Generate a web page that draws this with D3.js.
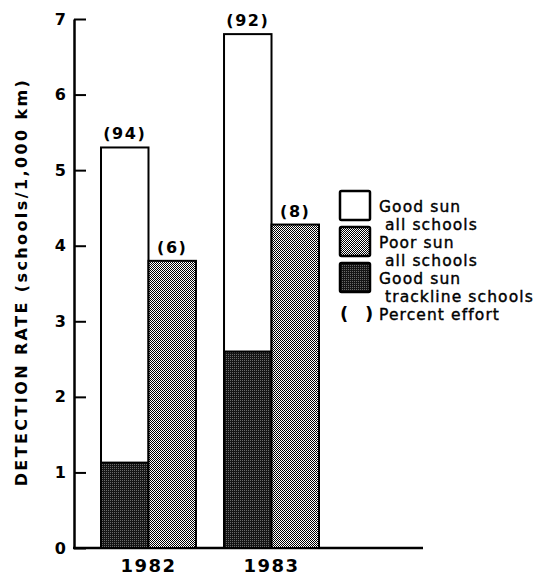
<!DOCTYPE html>
<html>
<head>
<meta charset="utf-8">
<script src="https://cdn.jsdelivr.net/npm/d3@7"></script>
<style>
    body { margin: 0; background: #fff; }
    svg { display: block; }
    text { font-family: "DejaVu Sans", sans-serif; fill: #000; }
</style>
</head>
<body>
<div id="chart"></div>
<script>
"use strict";

var years = ["1982", "1983"],
    goodAll = [5.3, 6.8],          //good sun, all schools (full bar height)
    goodTrackline = [1.13, 2.6],   //good sun, trackline schools (dark base)
    poorAll = [3.8, 4.28],         //poor sun, all schools
    effortGood = [94, 92],         //percent effort, good sun
    effortPoor = [6, 8],           //percent effort, poor sun
    yTicks = [0, 1, 2, 3, 4, 5, 6, 7],
    legendLabels = [["Good sun", "all schools"],
                    ["Poor sun", "all schools"],
                    ["Good sun", "trackline schools"]],
    legendFills = ["#fff", "url(#poorpat)", "url(#darkpat)"],
    effortLabel = "Percent effort",
    yLabel = "DETECTION RATE (schools/1,000 km)";

var W = 554, H = 577,
    svg, y, x, sub;


function appendPatterns () {
    var defs = svg.append("defs"), p;
    p = defs.append("pattern").attr("id", "poorpat")
        .attr("patternUnits", "userSpaceOnUse")
        .attr("width", 2).attr("height", 2);
    p.append("rect").attr("width", 2).attr("height", 2).attr("fill", "#fff");
    p.append("rect").attr("width", 1).attr("height", 1).attr("fill", "#000");
    p.append("rect").attr("x", 1).attr("y", 1).attr("width", 1).attr("height", 1)
        .attr("fill", "#000");
    p = defs.append("pattern").attr("id", "darkpat")
        .attr("patternUnits", "userSpaceOnUse")
        .attr("width", 2).attr("height", 2);
    p.append("rect").attr("width", 2).attr("height", 2).attr("fill", "#151515");
    p.append("rect").attr("width", 1).attr("height", 1).attr("fill", "#6a6a6a");
}


function appendAxes () {
    var ax = svg.append("g")
        .attr("transform", "translate(74,0)")
        .call(d3.axisLeft(y).tickValues(yTicks).tickSize(-12)
              .tickSizeOuter(0).tickPadding(8).tickFormat(d3.format("d")));
    ax.select(".domain").attr("stroke-width", 2.5);
    ax.selectAll(".tick line").attr("stroke-width", 2);
    ax.selectAll(".tick text")
        .attr("font-family", "DejaVu Sans")
        .attr("font-weight", "bold")
        .attr("font-size", 16);
    svg.append("line")   //baseline
        .attr("x1", 73).attr("x2", 423)
        .attr("y1", y(0)).attr("y2", y(0))
        .attr("stroke", "#000").attr("stroke-width", 2.5);
    svg.selectAll("text.year").data(years).enter().append("text")
        .attr("class", "year")
        .attr("x", function (d) { return x(d) + x.bandwidth() / 2; })
        .attr("y", 572)
        .attr("text-anchor", "middle")
        .attr("font-weight", "bold")
        .attr("font-size", 18)
        .attr("letter-spacing", 1.5)
        .text(function (d) { return d; });
    svg.append("text")
        .attr("transform", "translate(27," + 282 + ") rotate(-90)")
        .attr("text-anchor", "middle")
        .attr("font-weight", "bold")
        .attr("font-size", 16)
        .attr("letter-spacing", 2.4)
        .text(yLabel);
}


function appendBars () {
    years.forEach(function (yr, i) {
        var gx = x(yr) + sub("good"), px = x(yr) + sub("poor"),
            bw = sub.bandwidth();
        svg.append("rect")
            .attr("x", gx).attr("y", y(goodAll[i]))
            .attr("width", bw).attr("height", y(0) - y(goodAll[i]))
            .attr("fill", "#fff").attr("stroke", "#000").attr("stroke-width", 2);
        svg.append("rect")
            .attr("x", gx).attr("y", y(goodTrackline[i]))
            .attr("width", bw).attr("height", y(0) - y(goodTrackline[i]))
            .attr("fill", "url(#darkpat)").attr("stroke", "#000")
            .attr("stroke-width", 2);
        svg.append("rect")
            .attr("x", px).attr("y", y(poorAll[i]))
            .attr("width", bw).attr("height", y(0) - y(poorAll[i]))
            .attr("fill", "url(#poorpat)").attr("stroke", "#000")
            .attr("stroke-width", 2);
        [[gx, goodAll[i], effortGood[i]], [px, poorAll[i], effortPoor[i]]]
            .forEach(function (lab) {
                svg.append("text")
                    .attr("x", lab[0] + bw / 2)
                    .attr("y", y(lab[1]) - 8)
                    .attr("text-anchor", "middle")
                    .attr("font-weight", "bold")
                    .attr("font-size", 16)
                    .attr("letter-spacing", 1.5)
                    .text("(" + lab[2] + ")"); }); });
}


function legendText (g, tx, ty, txt) {
    g.append("text")
        .attr("x", tx).attr("y", ty)
        .attr("font-size", 15.5)
        .attr("letter-spacing", 1.1)
        .attr("stroke", "#000").attr("stroke-width", 0.4)
        .text(txt);
}


function appendLegend () {
    var lg = svg.append("g").attr("transform", "translate(340,191)"),
        step = 36, lead = 18.2;
    legendLabels.forEach(function (lines, i) {
        var ty = i * step;
        lg.append("rect")
            .attr("x", 0).attr("y", ty)
            .attr("width", 30).attr("height", 29)
            .attr("rx", 1.5)
            .attr("fill", legendFills[i])
            .attr("stroke", "#000").attr("stroke-width", 2.5);
        legendText(lg, 39, ty + 21, lines[0]);
        legendText(lg, 45, ty + 21 + lead, lines[1]);
    });
    legendText(lg, 39, 3 * step + 21, effortLabel);
    lg.append("text")
        .attr("x", 0).attr("y", 3 * step + 21)
        .attr("font-size", 18)
        .attr("font-weight", "bold")
        .text("(");
    lg.append("text")
        .attr("x", 25).attr("y", 3 * step + 21)
        .attr("font-size", 18)
        .attr("font-weight", "bold")
        .text(")");
}


svg = d3.select("#chart").append("svg")
    .attr("width", W).attr("height", H);
y = d3.scaleLinear().domain([0, 7]).range([548, 19]);
x = d3.scaleBand().domain(years).range([78, 342])
    .paddingInner(0.228).paddingOuter(0.187);
sub = d3.scaleBand().domain(["good", "poor"]).range([0, x.bandwidth()]);
appendPatterns();
appendAxes();
appendBars();
appendLegend();
</script>
</body>
</html>
